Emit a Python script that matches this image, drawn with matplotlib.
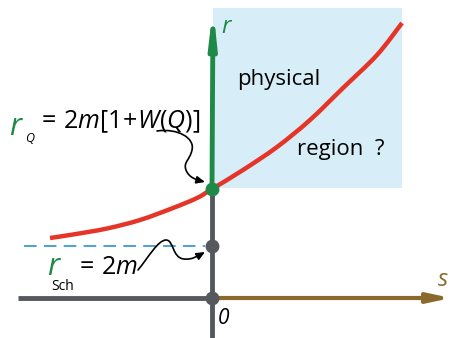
import matplotlib
matplotlib.use("Agg")
import matplotlib.pyplot as plt
from matplotlib.patches import Rectangle, FancyArrowPatch, PathPatch
from matplotlib.path import Path

plt.rcParams["font.family"] = ["Open Sans", "DejaVu Sans"]
plt.rcParams["mathtext.fontset"] = "custom"
plt.rcParams["mathtext.rm"] = "Open Sans"
plt.rcParams["mathtext.it"] = "Open Sans:italic"

# diagram coordinates (s, r); origin where the axes cross
curve_s = [-3.24, -2.78, -2.10, -1.44, -0.78, -0.30, 0.0, 0.62, 1.30, 1.96, 2.62, 3.30, 3.80]
curve_r = [1.20, 1.27, 1.39, 1.56, 1.80, 2.00, 2.18, 2.56, 3.02, 3.56, 4.20, 4.86, 5.50]
r_q = 2.18         # curve meets the r axis
r_sch = 1.04       # Schwarzschild radius
region = (0.02, 2.2, 3.8, 5.8)   # s0, r0, s1, r1 of the shaded region

# wiggly pointers (label -> dot), cubic bezier control points
wig1 = [(-1.10, 3.34), (-0.68, 3.40), (-0.34, 3.20), (-0.40, 2.96),
        (-0.44, 2.76), (-0.58, 2.72), (-0.52, 2.56),
        (-0.46, 2.40), (-0.30, 2.36), (-0.14, 2.32)]
wig2 = [(-1.48, 0.56), (-1.28, 0.80), (-1.08, 1.16), (-0.92, 1.16),
        (-0.76, 1.16), (-0.80, 0.80), (-0.56, 0.78),
        (-0.40, 0.76), (-0.28, 0.84), (-0.14, 0.92)]

green = "#1f8a48"
red = "#e53528"
gray = "#55595d"
brown = "#8a6a2c"


def smooth_path(xs, ys):
    """Catmull-Rom through the points, drawn as cubic bezier segments."""
    pts = list(zip(xs, ys))
    verts, codes = [pts[0]], [Path.MOVETO]
    for i in range(len(pts) - 1):
        p0 = pts[max(i - 1, 0)]
        p1, p2 = pts[i], pts[i + 1]
        p3 = pts[min(i + 2, len(pts) - 1)]
        c1 = (p1[0] + (p2[0] - p0[0]) / 6, p1[1] + (p2[1] - p0[1]) / 6)
        c2 = (p2[0] - (p3[0] - p1[0]) / 6, p2[1] - (p3[1] - p1[1]) / 6)
        verts += [c1, c2, p2]
        codes += [Path.CURVE4] * 3
    return Path(verts, codes)


fig = plt.figure(figsize=(4.51, 3.38), dpi=100)
ax = fig.add_axes([0, 0, 1, 1])
ax.set_xlim(-4.24, 4.78)
ax.set_ylim(-0.8, 5.96)
ax.axis("off")

ax.add_patch(Rectangle((region[0], region[1]), region[2] - region[0], region[3] - region[1],
                       color="#d7eef8", lw=0, zorder=0))

# axes
ax.plot([-3.88, 0], [0, 0], color=gray, lw=3.5, solid_capstyle="butt", zorder=2)
ax.plot([0, 0], [-0.8, r_q], color=gray, lw=3.5, solid_capstyle="butt", zorder=2)
ax.annotate("", xy=(4.78, 0), xytext=(0, 0),
            arrowprops=dict(arrowstyle="-|>,head_length=1.3,head_width=0.28", color=brown,
                            lw=3.0, shrinkA=0, shrinkB=0), zorder=2)
ax.annotate("", xy=(0.02, 5.82), xytext=(0, r_q),
            arrowprops=dict(arrowstyle="-|>,head_length=1.8,head_width=0.2", color=green,
                            lw=3.5, shrinkA=0, shrinkB=0), zorder=2)

ax.plot([-3.76, -0.14], [r_sch, r_sch], color="#3a9bd2", lw=1.3, dashes=(7, 4), zorder=2)
ax.add_patch(PathPatch(smooth_path(curve_s, curve_r), fill=False, edgecolor=red,
                       lw=3.2, zorder=3))

ax.plot([0], [r_q], "o", color=green, ms=9, zorder=4)
ax.plot([0, 0], [r_sch, 0], "o", color=gray, ms=9, ls="none", zorder=4)

for wig in (wig1, wig2):
    codes = [Path.MOVETO] + [Path.CURVE4] * (len(wig) - 1)
    ax.add_patch(FancyArrowPatch(path=Path(wig, codes),
                                 arrowstyle="-|>,head_length=5,head_width=2.2",
                                 color="black", lw=1.2, zorder=3))

# labels
ax.text(0.18, 5.42, "r", color=green, fontsize=17, style="italic", va="center")
ax.text(4.52, 0.36, "s", color=brown, fontsize=17, style="italic", va="center")
ax.text(0.12, -0.4, "0", color="black", fontsize=15, style="italic", va="center")
ax.text(0.5, 4.38, "physical", fontsize=16, va="center")
ax.text(1.7, 2.96, "region  ?", fontsize=16, va="center")

ax.text(-4.06, 3.42, "r", color=green, fontsize=22, style="italic", va="center")
ax.text(-3.74, 3.18, "Q", color="black", fontsize=9, style="italic", va="center")
ax.text(-3.5, 3.52, r"$=\/2m[1\!+\!W(Q)]$", fontsize=18, va="center")

ax.text(-3.3, 0.62, "r", color=green, fontsize=22, style="italic", va="center")
ax.text(-3.22, 0.22, "Sch", color="black", fontsize=10, va="center")
ax.text(-2.74, 0.62, r"$=\/2m$", fontsize=18, va="center")

fig.savefig("out.png", dpi=100)
